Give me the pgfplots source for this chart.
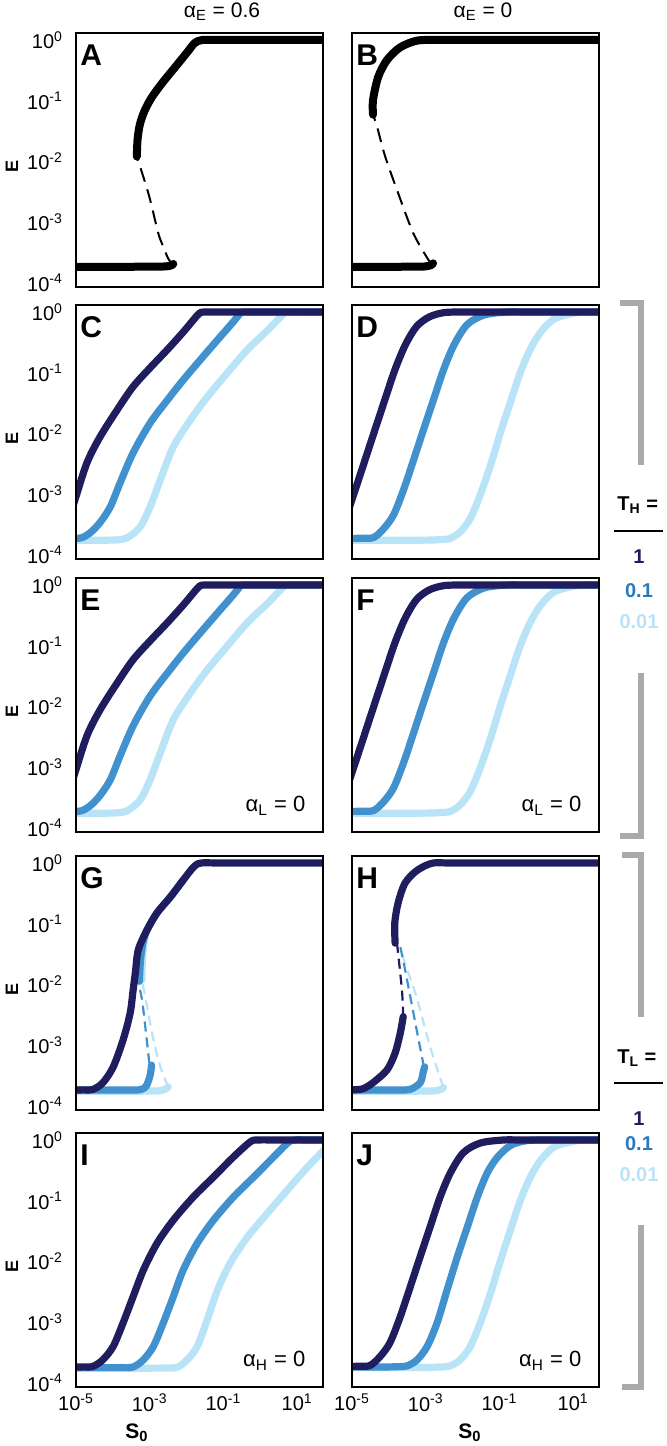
\documentclass[border=0pt]{standalone}
\usepackage{fontspec}
\setmainfont{Liberation Sans}
\usepackage{pgfplots}
\pgfplotsset{compat=1.18}
\definecolor{navyc}{RGB}{31,29,94}
\definecolor{midc}{RGB}{64,145,205}
\definecolor{midt}{RGB}{40,122,192}
\definecolor{lightc}{RGB}{185,228,248}
\definecolor{brk}{RGB}{170,170,172}
\pgfplotsset{
  pan/.style={anchor=north west, scale only axis, width=123.5pt, height=127pt,
    xmin=-5, xmax=1.7, ymin=-4.07, ymax=0.115,
    xtick={-5,-3,-1,1}, ytick={-4,-3,-2,-1,0},
    xticklabels={10\textsuperscript{-5},10\textsuperscript{-3},10\textsuperscript{-1},10\textsuperscript{1}},
    yticklabels={10\textsuperscript{-4},10\textsuperscript{-3},10\textsuperscript{-2},10\textsuperscript{-1},10\textsuperscript{0}},
    major tick length=0pt,
    tick label style={font=\fontsize{10}{12}\selectfont},
    yticklabel style={xshift=-3pt},
    axis line style={line width=0.8pt},
    axis on top},
  nox/.style={xticklabels={}},
  noy/.style={yticklabels={}},
  blk/.style={black, line width=4pt, line cap=round, line join=round, smooth, no markers},
  blkd/.style={black, line width=1pt, dash pattern=on 7pt off 4pt, smooth, no markers},
  nv/.style={navyc, line width=3.6pt, line cap=round, line join=round, smooth, no markers},
  md/.style={midc, line width=3.6pt, line cap=round, line join=round, smooth, no markers},
  lt/.style={lightc, line width=3.6pt, line cap=round, line join=round, smooth, no markers},
  nvd/.style={navyc, line width=1.1pt, dash pattern=on 5pt off 3pt, smooth, no markers},
  mdd/.style={midc, line width=1.1pt, dash pattern=on 5pt off 3pt, smooth, no markers},
  ltd/.style={lightc, line width=1.1pt, dash pattern=on 5pt off 3pt, smooth, no markers},
}
\newcommand{\plet}[1]{\node[anchor=base west, inner sep=0, font=\bfseries\fontsize{15}{15}\selectfont] at (rel axis cs:0.016,0.874) {#1};}
\newcommand{\alab}[1]{\node[anchor=base east, inner sep=0, font=\fontsize{11}{12}\selectfont] at (rel axis cs:0.93,0.079) {α\textsubscript{#1} = 0};}
\begin{document}
\begin{tikzpicture}
\useasboundingbox (0,0) rectangle (333pt,-723pt);
% ---------------- A
\begin{axis}[pan, nox, at={(38pt,-16.5pt)}]
\addplot[blk] coordinates {(-5.1,-3.74) (-3.0,-3.735) (-2.55,-3.73) (-2.40,-3.71) (-2.36,-3.69)};
\addplot[blkd] coordinates {(-2.38,-3.70) (-2.50,-3.60) (-2.65,-3.38) (-2.77,-3.18) (-2.99,-2.63) (-3.15,-2.30) (-3.26,-2.09) (-3.34,-1.93)};
\addplot[blk] coordinates {(-3.35,-1.92) (-3.33,-1.64) (-3.27,-1.40) (-3.15,-1.18) (-2.95,-0.95) (-2.65,-0.70) (-2.30,-0.44) (-1.98,-0.20) (-1.78,-0.05) (-1.58,0) (-1.2,0) (1.8,0)};
\plet{A}
\end{axis}
% ---------------- B
\begin{axis}[pan, nox, noy, at={(176pt,-16.5pt)}]
\addplot[blk] coordinates {(-5.1,-3.74) (-3.3,-3.735) (-3.0,-3.73) (-2.86,-3.71) (-2.80,-3.68)};
\addplot[blkd] coordinates {(-2.85,-3.68) (-2.93,-3.62) (-3.34,-3.18) (-3.78,-2.47) (-4.10,-1.92) (-4.32,-1.43) (-4.43,-1.23)};
\addplot[blk] coordinates {(-4.43,-1.23) (-4.43,-0.99) (-4.29,-0.61) (-4.05,-0.33) (-3.69,-0.12) (-3.23,-0.01) (-2.69,0) (-2.0,0) (1.8,0)};
\plet{B}
\end{axis}
% ---------------- C
\begin{axis}[pan, nox, at={(38pt,-152.5pt)}]
\addplot[lt] coordinates {(-5.1,-3.76) (-4.4,-3.76) (-3.9,-3.755) (-3.61,-3.72) (-3.26,-3.54) (-2.99,-3.21) (-2.71,-2.76) (-2.36,-2.22) (-1.90,-1.78) (-1.44,-1.40) (-0.89,-1.00) (-0.35,-0.62) (0.20,-0.30) (0.55,-0.08) (0.72,0) (1.2,0) (1.8,0)};
\addplot[md] coordinates {(-5.1,-3.73) (-4.85,-3.72) (-4.62,-3.64) (-4.35,-3.47) (-4.07,-3.21) (-3.80,-2.81) (-3.45,-2.32) (-2.99,-1.83) (-2.52,-1.45) (-2.09,-1.12) (-1.63,-0.79) (-1.16,-0.46) (-0.73,-0.16) (-0.54,-0.02) (-0.42,0) (0.2,0) (1.8,0)};
\addplot[nv] coordinates {(-5.1,-3.23) (-5.00,-3.04) (-4.70,-2.48) (-4.35,-2.06) (-3.88,-1.61) (-3.45,-1.23) (-2.99,-0.92) (-2.52,-0.62) (-2.09,-0.33) (-1.80,-0.12) (-1.65,-0.02) (-1.52,0) (-1.0,0) (1.8,0)};
\plet{C}
\end{axis}
% ---------------- D
\begin{axis}[pan, nox, noy, at={(176pt,-152.5pt)}]
\addplot[lt] coordinates {(-5.1,-3.76) (-3.5,-3.76) (-2.9,-3.758) (-2.6,-3.75) (-2.33,-3.73) (-2.06,-3.62) (-1.79,-3.40) (-1.52,-3.01) (-1.24,-2.52) (-0.97,-1.98) (-0.70,-1.48) (-0.43,-0.99) (-0.16,-0.61) (0.12,-0.33) (0.47,-0.12) (0.93,-0.03) (1.3,0) (1.8,0)};
\addplot[md] coordinates {(-5.1,-3.73) (-4.7,-3.728) (-4.41,-3.715) (-4.14,-3.57) (-3.87,-3.34) (-3.59,-2.91) (-3.32,-2.42) (-3.05,-1.92) (-2.78,-1.43) (-2.51,-0.94) (-2.23,-0.54) (-1.88,-0.21) (-1.42,-0.05) (-0.79,0) (-0.2,0) (1.8,0)};
\addplot[nv] coordinates {(-5.1,-3.27) (-5.0,-3.09) (-4.75,-2.63) (-4.41,-2.00) (-4.10,-1.43) (-3.84,-0.96) (-3.56,-0.55) (-3.25,-0.24) (-2.90,-0.08) (-2.50,-0.01) (-2.0,0) (-1.4,0) (1.8,0)};
\plet{D}
\end{axis}
% ---------------- E
\begin{axis}[pan, nox, at={(38pt,-289pt)}]
\addplot[lt] coordinates {(-5.1,-3.76) (-4.4,-3.76) (-3.9,-3.755) (-3.61,-3.72) (-3.26,-3.54) (-2.99,-3.21) (-2.71,-2.76) (-2.36,-2.22) (-1.90,-1.78) (-1.44,-1.40) (-0.89,-1.00) (-0.35,-0.62) (0.20,-0.30) (0.55,-0.08) (0.72,0) (1.2,0) (1.8,0)};
\addplot[md] coordinates {(-5.1,-3.73) (-4.85,-3.72) (-4.62,-3.64) (-4.35,-3.47) (-4.07,-3.21) (-3.80,-2.81) (-3.45,-2.32) (-2.99,-1.83) (-2.52,-1.45) (-2.09,-1.12) (-1.63,-0.79) (-1.16,-0.46) (-0.73,-0.16) (-0.54,-0.02) (-0.42,0) (0.2,0) (1.8,0)};
\addplot[nv] coordinates {(-5.1,-3.23) (-5.00,-3.04) (-4.70,-2.48) (-4.35,-2.06) (-3.88,-1.61) (-3.45,-1.23) (-2.99,-0.92) (-2.52,-0.62) (-2.09,-0.33) (-1.80,-0.12) (-1.65,-0.02) (-1.52,0) (-1.0,0) (1.8,0)};
\plet{E}
\alab{L}
\end{axis}
% ---------------- F
\begin{axis}[pan, nox, noy, at={(176pt,-289pt)}]
\addplot[lt] coordinates {(-5.1,-3.76) (-3.5,-3.76) (-2.9,-3.758) (-2.6,-3.75) (-2.33,-3.73) (-2.06,-3.62) (-1.79,-3.40) (-1.52,-3.01) (-1.24,-2.52) (-0.97,-1.98) (-0.70,-1.48) (-0.43,-0.99) (-0.16,-0.61) (0.12,-0.33) (0.47,-0.12) (0.93,-0.03) (1.3,0) (1.8,0)};
\addplot[md] coordinates {(-5.1,-3.73) (-4.7,-3.728) (-4.41,-3.715) (-4.14,-3.57) (-3.87,-3.34) (-3.59,-2.91) (-3.32,-2.42) (-3.05,-1.92) (-2.78,-1.43) (-2.51,-0.94) (-2.23,-0.54) (-1.88,-0.21) (-1.42,-0.05) (-0.79,0) (-0.2,0) (1.8,0)};
\addplot[nv] coordinates {(-5.1,-3.27) (-5.0,-3.09) (-4.75,-2.63) (-4.41,-2.00) (-4.10,-1.43) (-3.84,-0.96) (-3.56,-0.55) (-3.25,-0.24) (-2.90,-0.08) (-2.50,-0.01) (-2.0,0) (-1.4,0) (1.8,0)};
\plet{F}
\alab{L}
\end{axis}
% ---------------- G
\begin{axis}[pan, nox, at={(38pt,-428pt)}]
\addplot[lt] coordinates {(-5.1,-3.76) (-3.5,-3.76) (-2.9,-3.757) (-2.70,-3.75) (-2.56,-3.72) (-2.50,-3.69)};
\addplot[ltd] coordinates {(-2.50,-3.69) (-2.71,-3.36) (-2.90,-2.91) (-3.07,-2.37) (-3.21,-1.93)};
\addplot[lt] coordinates {(-3.21,-1.93) (-3.20,-1.60) (-3.15,-1.30) (-3.07,-1.10) (-2.80,-0.82) (-2.44,-0.56) (-2.09,-0.28)};
\addplot[md] coordinates {(-5.1,-3.74) (-3.6,-3.74) (-3.26,-3.735) (-3.10,-3.68) (-2.99,-3.50) (-2.95,-3.33)};
\addplot[mdd] coordinates {(-3.01,-3.30) (-3.12,-2.70) (-3.21,-2.25) (-3.31,-1.97)};
\addplot[md] coordinates {(-3.28,-1.95) (-3.25,-1.60) (-3.18,-1.30) (-3.07,-1.10) (-2.80,-0.82) (-2.44,-0.56) (-2.09,-0.28)};
\addplot[nv] coordinates {(-5.1,-3.74) (-4.8,-3.738) (-4.54,-3.73) (-4.27,-3.62) (-3.99,-3.36) (-3.72,-2.91) (-3.53,-2.47) (-3.45,-2.09) (-3.39,-1.81) (-3.31,-1.43) (-3.07,-1.10) (-2.80,-0.82) (-2.44,-0.56) (-2.09,-0.28) (-1.80,-0.06) (-1.60,0) (-1.0,0) (1.8,0)};
\plet{G}
\end{axis}
% ---------------- H
\begin{axis}[pan, nox, noy, at={(176pt,-428pt)}]
\addplot[lt] coordinates {(-5.1,-3.76) (-3.5,-3.76) (-2.95,-3.757) (-2.69,-3.75) (-2.56,-3.72) (-2.52,-3.70)};
\addplot[ltd] coordinates {(-2.52,-3.70) (-2.88,-3.03) (-3.23,-2.25) (-3.50,-1.76) (-3.69,-1.43)};
\addplot[md] coordinates {(-5.1,-3.74) (-3.8,-3.74) (-3.42,-3.73) (-3.15,-3.62) (-3.07,-3.45) (-3.03,-3.36)};
\addplot[mdd] coordinates {(-3.05,-3.36) (-3.23,-2.80) (-3.42,-2.20) (-3.56,-1.76) (-3.69,-1.38)};
\addplot[nv] coordinates {(-5.1,-3.74) (-4.9,-3.735) (-4.70,-3.72) (-4.43,-3.62) (-4.05,-3.41) (-3.83,-3.13) (-3.69,-2.80) (-3.61,-2.53)};
\addplot[nvd] coordinates {(-3.61,-2.53) (-3.64,-2.14) (-3.71,-1.71) (-3.78,-1.32)};
\addplot[nv] coordinates {(-3.83,-1.32) (-3.84,-0.99) (-3.75,-0.66) (-3.56,-0.33) (-3.23,-0.12) (-2.80,0) (-2.2,0) (1.8,0)};
\plet{H}
\end{axis}
% ---------------- I
\begin{axis}[pan, at={(38pt,-566.5pt)}]
\addplot[lt] coordinates {(-5.1,-3.76) (-3.5,-3.76) (-2.55,-3.757) (-2.25,-3.745) (-1.98,-3.62) (-1.71,-3.40) (-1.44,-2.96) (-1.16,-2.47) (-0.81,-2.02) (-0.35,-1.60) (0.20,-1.20) (0.74,-0.82) (1.29,-0.44) (1.80,-0.12)};
\addplot[md] coordinates {(-5.1,-3.75) (-3.8,-3.75) (-3.45,-3.74) (-3.17,-3.62) (-2.90,-3.40) (-2.63,-3.01) (-2.36,-2.58) (-2.09,-2.14) (-1.71,-1.70) (-1.27,-1.32) (-0.73,-0.94) (-0.18,-0.61) (0.36,-0.28) (0.74,-0.05) (0.92,0) (1.3,0) (1.8,0)};
\addplot[nv] coordinates {(-5.1,-3.74) (-4.8,-3.738) (-4.54,-3.73) (-4.27,-3.62) (-3.99,-3.40) (-3.72,-3.01) (-3.45,-2.58) (-3.17,-2.14) (-2.80,-1.70) (-2.36,-1.32) (-1.82,-0.94) (-1.27,-0.61) (-0.73,-0.28) (-0.27,-0.03) (-0.06,0) (0.5,0) (1.8,0)};
\plet{I}
\alab{H}
\end{axis}
% ---------------- J
\begin{axis}[pan, noy, at={(176pt,-566.5pt)}]
\addplot[lt] coordinates {(-5.1,-3.75) (-3.5,-3.75) (-2.9,-3.748) (-2.6,-3.74) (-2.33,-3.72) (-2.06,-3.62) (-1.79,-3.40) (-1.52,-3.01) (-1.24,-2.52) (-0.97,-1.98) (-0.70,-1.48) (-0.43,-0.99) (-0.16,-0.61) (0.12,-0.33) (0.47,-0.12) (0.93,-0.03) (1.3,0) (1.8,0)};
\addplot[md] coordinates {(-5.1,-3.74) (-4.2,-3.74) (-3.78,-3.735) (-3.50,-3.72) (-3.23,-3.62) (-2.96,-3.40) (-2.69,-3.01) (-2.42,-2.47) (-2.14,-1.92) (-1.87,-1.43) (-1.60,-0.94) (-1.33,-0.54) (-1.05,-0.28) (-0.70,-0.09) (-0.30,-0.015) (0.2,0) (1.8,0)};
\addplot[nv] coordinates {(-5.1,-3.73) (-4.8,-3.728) (-4.51,-3.715) (-4.24,-3.57) (-3.97,-3.34) (-3.69,-2.91) (-3.42,-2.42) (-3.15,-1.92) (-2.88,-1.43) (-2.61,-0.94) (-2.33,-0.54) (-1.98,-0.21) (-1.52,-0.05) (-0.89,0) (-0.3,0) (1.8,0)};
\plet{J}
\alab{H}
\end{axis}
% ---------------- titles and labels
\node[anchor=base, font=\fontsize{10.5}{12}\selectfont] at (111pt,-8.5pt) {α\textsubscript{E} = 0.6};
\node[anchor=base, font=\fontsize{10.5}{12}\selectfont] at (241.5pt,-8.5pt) {α\textsubscript{E} = 0};
\foreach \yy in {-83,-219,-355.5,-494.5,-633}
  \node[rotate=90, font=\bfseries\fontsize{9}{10}\selectfont] at (6pt,\yy pt) {E};
\node[anchor=base, font=\bfseries\fontsize{10.5}{12}\selectfont] at (68.5pt,-719pt) {S\textsubscript{0}};
\node[anchor=base, font=\bfseries\fontsize{10.5}{12}\selectfont] at (235pt,-719pt) {S\textsubscript{0}};
% ---------------- legends
\node[anchor=base west, inner sep=0, font=\bfseries\fontsize{10}{12}\selectfont] at (308.5pt,-255pt) {T\textsubscript{H} =};
\draw[line width=0.8pt] (307pt,-265.5pt) -- (331.5pt,-265.5pt);
\node[anchor=base, inner sep=0, text=navyc, font=\bfseries\fontsize{10}{12}\selectfont] at (319.5pt,-281.5pt) {1};
\node[anchor=base, inner sep=0, text=midt, font=\bfseries\fontsize{10}{12}\selectfont] at (319.5pt,-298.5pt) {0.1};
\node[anchor=base, inner sep=0, text=lightc, font=\bfseries\fontsize{10}{12}\selectfont] at (319.5pt,-314pt) {0.01};
\node[anchor=base west, inner sep=0, font=\bfseries\fontsize{10}{12}\selectfont] at (308.5pt,-531.5pt) {T\textsubscript{L} =};
\draw[line width=0.8pt] (307pt,-541.5pt) -- (331.5pt,-541.5pt);
\node[anchor=base, inner sep=0, text=navyc, font=\bfseries\fontsize{10}{12}\selectfont] at (319.5pt,-562.5pt) {1};
\node[anchor=base, inner sep=0, text=midt, font=\bfseries\fontsize{10}{12}\selectfont] at (319.5pt,-575pt) {0.1};
\node[anchor=base, inner sep=0, text=lightc, font=\bfseries\fontsize{10}{12}\selectfont] at (319.5pt,-590.5pt) {0.01};
% ---------------- brackets
\draw[brk, line width=3pt] (310pt,-151.5pt) -- (320.25pt,-151.5pt) -- (320.25pt,-232.5pt);
\draw[brk, line width=3pt] (320.25pt,-336.5pt) -- (320.25pt,-418pt) -- (310pt,-418pt);
\draw[brk, line width=3pt] (311pt,-427.25pt) -- (320.5pt,-427.25pt) -- (320.5pt,-508.5pt);
\draw[brk, line width=3pt] (320.5pt,-612.5pt) -- (320.5pt,-693.5pt) -- (311pt,-693.5pt);
\end{tikzpicture}
\end{document}
